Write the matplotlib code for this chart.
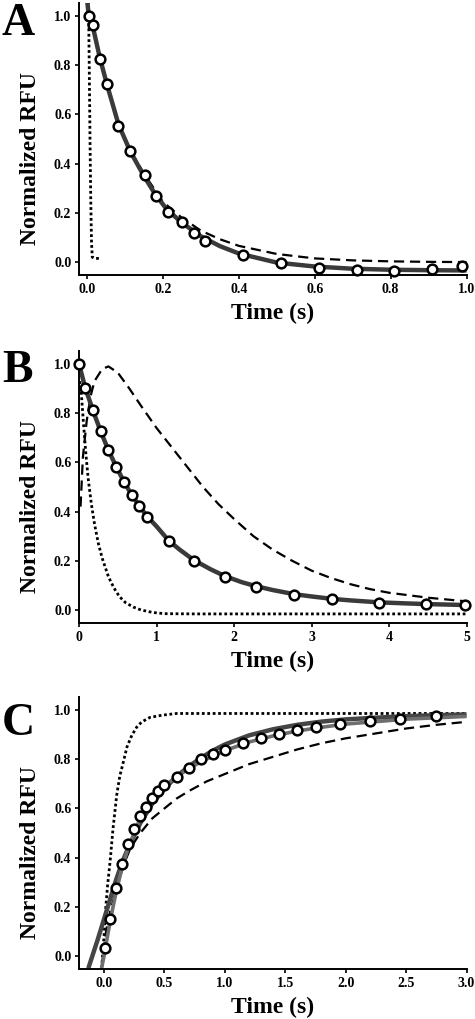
import matplotlib
matplotlib.use("Agg")
import matplotlib.pyplot as plt

plt.rcParams['font.family'] = ['Liberation Serif', 'DejaVu Serif']
plt.rcParams['font.weight'] = 'bold'

# ---- panel A: fast decay ----
a_t = [0.005, 0.015, 0.034, 0.053, 0.083, 0.114, 0.153, 0.182, 0.213, 0.251,
       0.282, 0.312, 0.412, 0.511, 0.611, 0.710, 0.809, 0.909, 0.988]
a_y = [1.0, 0.963, 0.827, 0.723, 0.553, 0.452, 0.353, 0.268, 0.202, 0.165,
       0.120, 0.087, 0.027, -0.004, -0.022, -0.031, -0.035, -0.030, -0.015]
a_fit_t = [0.0, 0.005, 0.015, 0.034, 0.053, 0.083, 0.114, 0.15, 0.18, 0.21,
           0.25, 0.3, 0.35, 0.4, 0.5, 0.6, 0.7, 0.8, 0.9, 1.0]
a_fit_y = [1.07, 1.0, 0.96, 0.83, 0.72, 0.56, 0.45, 0.35, 0.275, 0.215,
           0.16, 0.105, 0.065, 0.035, -0.002, -0.018, -0.027, -0.031, -0.033, -0.034]
a_dash_t = [0.0, 0.005, 0.015, 0.034, 0.053, 0.083, 0.114, 0.15, 0.2, 0.25,
            0.3, 0.35, 0.4, 0.5, 0.6, 0.7, 0.8, 0.9, 1.0]
a_dash_y = [1.07, 1.0, 0.96, 0.83, 0.72, 0.56, 0.455, 0.36, 0.245, 0.18,
            0.128, 0.093, 0.066, 0.033, 0.015, 0.007, 0.003, 0.001, 0.0]
a_dot_t = [0.004, 0.006, 0.008, 0.010, 0.012, 0.014, 0.02, 0.032]
a_dot_y = [1.06, 0.8, 0.5, 0.25, 0.08, 0.02, 0.015, 0.015]

# ---- panel B: slower decay ----
b_t = [0.0, 0.08, 0.18, 0.28, 0.38, 0.48, 0.58, 0.68, 0.78, 0.88,
       1.16, 1.48, 1.88, 2.28, 2.78, 3.27, 3.87, 4.47, 4.98]
b_y = [1.0, 0.904, 0.811, 0.726, 0.649, 0.583, 0.521, 0.468, 0.422, 0.377,
       0.279, 0.201, 0.136, 0.095, 0.061, 0.043, 0.030, 0.024, 0.020]
b_fit_t = [0.0, 0.08, 0.18, 0.28, 0.38, 0.48, 0.58, 0.68, 0.78, 0.88, 1.0,
           1.16, 1.3, 1.48, 1.7, 1.88, 2.1, 2.28, 2.5, 2.78, 3.0, 3.27, 3.5,
           3.87, 4.2, 4.47, 4.75, 5.0]
b_fit_y = [1.0, 0.904, 0.811, 0.726, 0.649, 0.583, 0.521, 0.468, 0.422, 0.38, 0.34,
           0.281, 0.245, 0.203, 0.165, 0.138, 0.113, 0.097, 0.081, 0.064, 0.055,
           0.045, 0.039, 0.031, 0.027, 0.024, 0.022, 0.020]
b_dash_t = [0.02, 0.05, 0.1, 0.15, 0.2, 0.3, 0.38, 0.5, 0.65, 0.8, 1.0, 1.2,
            1.4, 1.6, 1.8, 2.0, 2.25, 2.5, 2.75, 3.0, 3.25, 3.5, 3.75, 4.0,
            4.5, 5.0]
b_dash_y = [0.42, 0.62, 0.77, 0.87, 0.93, 0.98, 0.99, 0.965, 0.9, 0.83, 0.74,
            0.66, 0.58, 0.5, 0.43, 0.37, 0.3, 0.245, 0.2, 0.16, 0.13, 0.105,
            0.085, 0.07, 0.05, 0.035]
b_dot_t = [0.01, 0.03, 0.06, 0.09, 0.12, 0.16, 0.2, 0.25, 0.3, 0.38, 0.45,
           0.52, 0.6, 0.7, 0.8, 0.95, 1.1, 1.5, 5.0]
b_dot_y = [0.93, 0.88, 0.75, 0.63, 0.53, 0.43, 0.35, 0.27, 0.21, 0.135, 0.09,
           0.055, 0.03, 0.012, 0.0, -0.01, -0.015, -0.016, -0.016]

# ---- panel C: rise ----
c_t = [0.01, 0.05, 0.1, 0.15, 0.2, 0.25, 0.3, 0.35, 0.4, 0.45, 0.5, 0.6,
       0.7, 0.8, 0.9, 1.0, 1.15, 1.3, 1.45, 1.6, 1.75, 1.95, 2.2, 2.45, 2.75]
c_y = [0.031, 0.149, 0.275, 0.376, 0.455, 0.518, 0.570, 0.606, 0.643, 0.671,
       0.697, 0.728, 0.766, 0.799, 0.820, 0.839, 0.866, 0.886, 0.903, 0.918,
       0.930, 0.945, 0.955, 0.965, 0.976]
c_fit1_t = [-0.13, -0.05, 0.0, 0.05, 0.1, 0.15, 0.2, 0.3, 0.4, 0.5, 0.6, 0.7,
            0.8, 0.9, 1.0, 1.2, 1.4, 1.6, 1.8, 2.0, 2.25, 2.5, 2.75, 3.0]
c_fit1_y = [-0.05, 0.07, 0.15, 0.23, 0.31, 0.38, 0.44, 0.54, 0.62, 0.68, 0.73,
            0.77, 0.805, 0.835, 0.86, 0.897, 0.922, 0.94, 0.953, 0.962, 0.969,
            0.975, 0.979, 0.982]
c_fit2_t = [-0.02, 0.0, 0.05, 0.1, 0.15, 0.2, 0.3, 0.4, 0.5, 0.6, 0.8, 1.0,
            1.2, 1.4, 1.6, 1.8, 2.0, 2.5, 3.0]
c_fit2_y = [-0.05, 0.0, 0.14, 0.26, 0.36, 0.44, 0.56, 0.635, 0.69, 0.73, 0.79,
            0.835, 0.87, 0.895, 0.915, 0.93, 0.943, 0.963, 0.974]
c_dash_t = [-0.02, 0.0, 0.02, 0.05, 0.09, 0.13, 0.17, 0.22, 0.3, 0.4, 0.5,
            0.6, 0.7, 0.85, 1.0, 1.2, 1.4, 1.6, 1.8, 2.0, 2.25, 2.5, 2.75, 3.0]
c_dash_y = [-0.05, 0.04, 0.11, 0.18, 0.25, 0.32, 0.38, 0.44, 0.5, 0.56, 0.6,
            0.64, 0.67, 0.71, 0.74, 0.78, 0.81, 0.84, 0.865, 0.885, 0.905,
            0.925, 0.94, 0.952]
c_dot_t = [-0.02, 0.0, 0.014, 0.03, 0.05, 0.075, 0.105, 0.13, 0.16, 0.19,
           0.23, 0.27, 0.31, 0.38, 0.48, 0.6, 3.0]
c_dot_y = [-0.05, 0.08, 0.194, 0.29, 0.383, 0.52, 0.654, 0.73, 0.789, 0.85,
           0.897, 0.93, 0.951, 0.97, 0.979, 0.986, 0.986]

panels = [
    dict(letter="A", pts=(a_t, a_y), fits=[(a_fit_t, a_fit_y, "#3a3a3a", 3.2)],
         dash=(a_dash_t, a_dash_y), dot=(a_dot_t, a_dot_y),
         xlim=(-0.021, 1.0), xticks=[0.0, 0.2, 0.4, 0.6, 0.8, 1.0], fmt="{:.1f}",
         bottom=0.730, base=0.9657),
    dict(letter="B", pts=(b_t, b_y), fits=[(b_fit_t, b_fit_y, "#3a3a3a", 3.2)],
         dash=(b_dash_t, b_dash_y), dot=(b_dot_t, b_dot_y),
         xlim=(0, 5), xticks=[0, 1, 2, 3, 4, 5], fmt="{:.0f}",
         bottom=0.3886, base=0.625),
    dict(letter="C", pts=(c_t, c_y),
         fits=[(c_fit1_t, c_fit1_y, "#454545", 3.2), (c_fit2_t, c_fit2_y, "#6e6e6e", 2.6)],
         dash=(c_dash_t, c_dash_y), dot=(c_dot_t, c_dot_y),
         xlim=(-0.207, 3.0), xticks=[0.0, 0.5, 1.0, 1.5, 2.0, 2.5, 3.0], fmt="{:.1f}",
         bottom=0.049, base=0.279),
]

fig = plt.figure(figsize=(4.75, 10.19), dpi=100)

for p in panels:
    ax = fig.add_axes([0.1663, p["bottom"], 0.816, 0.267])
    ax.plot(*p["dot"], color="black", lw=2.0, linestyle=(0, (1.0, 0.95)))
    ax.plot(*p["dash"], color="black", lw=1.6, linestyle=(0, (4.6, 2.6)))
    for ft, fy, col, lw in p["fits"]:
        ax.plot(ft, fy, color=col, lw=lw, solid_capstyle="butt")
    ax.plot(*p["pts"], linestyle="none", marker="o", ms=7, mfc="white",
            mec="black", mew=1.8, clip_on=False, zorder=5)

    ax.set_xlim(*p["xlim"])
    ax.set_ylim(-0.053, 1.053)
    ax.set_xticks(p["xticks"])
    ax.set_xticklabels([p["fmt"].format(v) for v in p["xticks"]])
    ax.set_yticks([0.0, 0.2, 0.4, 0.6, 0.8, 1.0])
    ax.set_yticklabels(["{:.1f}".format(v) for v in [0.0, 0.2, 0.4, 0.6, 0.8, 1.0]])
    for s in ["top", "right"]:
        ax.spines[s].set_visible(False)
    for s in ["left", "bottom"]:
        ax.spines[s].set_linewidth(1.4)
    ax.tick_params(direction="out", length=3, width=1.2, labelsize=10,
                   pad=2.5, colors="black")
    for lab in ax.get_xticklabels() + ax.get_yticklabels():
        lab.set_fontweight("bold")

    ax.set_xlabel("Time (s)", fontsize=17, fontweight="bold")
    ax.set_ylabel("Normalized RFU", fontsize=17, fontweight="bold")
    ax.xaxis.set_label_coords(0.5, -0.14)
    ax.xaxis.label.set_va("center")
    ax.yaxis.set_label_coords(-0.126, 0.43)
    ax.yaxis.label.set_va("center")

    fig.text(0.004, p["base"], p["letter"], fontsize=33, fontweight="bold",
             va="baseline", ha="left")

fig.savefig("out.png", dpi=100)
